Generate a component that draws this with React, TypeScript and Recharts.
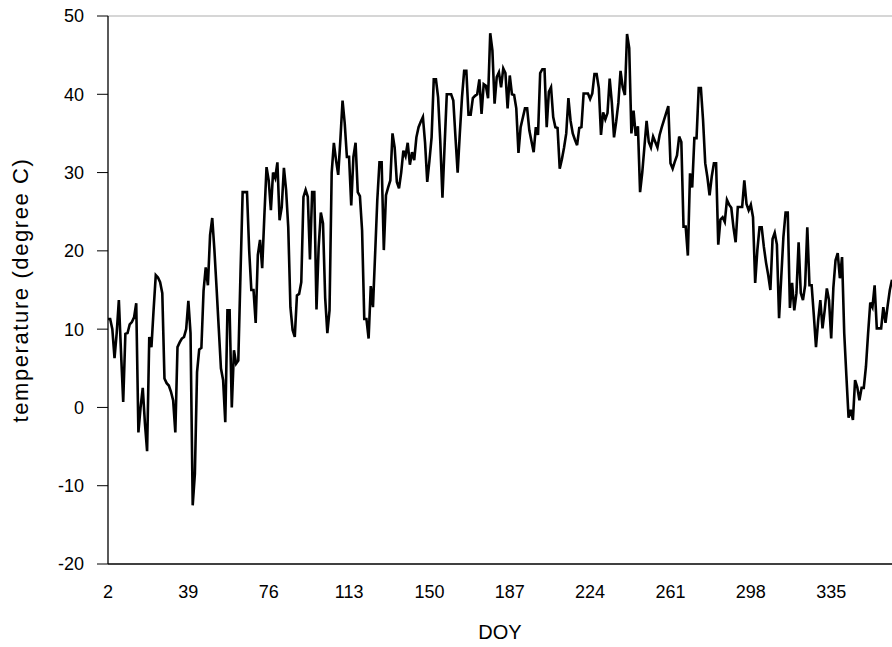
import { LineChart, Line, XAxis, YAxis, ReferenceLine } from "recharts"

// Daily air temperature, day of year 2..363, split by quarter
const FIRST_DOY = 2

const janToMar = [
  11.3, 11.3, 10, 6.3, 9.5, 13.7, 7, 0.7, 9.4, 9.5,
  10.6, 10.9, 11.5, 13.3, -3.2, 0, 2.5, -2, -5.6, 9.0,
  7.7, 12.5, 16.9, 16.6, 16, 14.6, 3.7, 3.1, 2.8, 2,
  0.9, -3.2, 7.7, 8.3, 8.8, 9.0, 10, 13.6, 9.5, -12.5,
  -8.5, 4.5, 7.4, 7.6, 14.9, 17.9, 15.6, 22, 24.2, 20.1,
  15.2, 10.1, 5.0, 3.5, -1.9, 12.4, 12.4, 0, 7.3, 5.6,
  6.0, 17, 27.5, 27.5, 27.5, 20.1, 15, 15, 10.8, 19.5,
  21.4, 17.8, 24.5, 30.7, 29, 25.2, 30, 29.3, 31.3, 23.9,
  25.6, 30.6, 27.8, 23, 12.8, 9.9, 9.0, 14.3, 14.5, 16,
]

const aprToJun = [
  26.9, 27.8, 26.9, 18.9, 27.5, 27.5, 12.5, 20.5, 24.9, 23.5,
  14, 9.5, 12.4, 30, 33.8, 31.6, 29.7, 34.2, 39.2, 36.3,
  32, 32, 25.8, 32, 33.8, 27.5, 27, 22.6, 11.3, 11.3,
  8.8, 15.5, 12.8, 19.6, 26.5, 31.3, 31.3, 20.1, 27.1, 28.1,
  29.0, 35, 33.2, 28.8, 28, 30, 32.8, 32.1, 33.8, 31,
  32.6, 31.6, 34.5, 35.8, 36.5, 37.1, 33.8, 28.8, 31.5, 34.5,
  41.9, 41.9, 39.6, 34, 26.8, 33.5, 40, 40, 40, 39.2,
  34.5, 30, 35, 39.6, 43, 43, 37.4, 37.4, 39.5, 39.8,
  40, 41.9, 37.5, 41.3, 41.1, 39.5, 47.8, 45.6, 38.8, 42.2,
  42.8,
]

const julToSep = [
  40.9, 43.3, 42.7, 38.2, 42.4, 40, 39.9, 38.2, 32.5, 35.8,
  37, 38.2, 38.2, 35.4, 34, 32.6, 35.8, 34.8, 42.7, 43.2,
  43.2, 35.8, 40.3, 40.9, 37.1, 35.8, 35.7, 30.5, 31.7, 33.2,
  35, 39.5, 36.6, 35, 34.2, 33.5, 35.7, 35.8, 40.1, 40.1,
  40.1, 39.4, 40.1, 42.6, 42.6, 40.8, 34.8, 37.7, 36.8, 37.6,
  42, 38.9, 34.5, 36.5, 38.9, 43, 40.9, 39.9, 47.7, 45.9,
  35, 37.9, 34.7, 35.9, 27.5, 30, 33.3, 36.6, 33.9, 33.2,
  34.6, 33.9, 33.2, 34.8, 35.8, 36.7, 37.6, 38.5, 31.2, 30.5,
  31.4, 32.2, 34.6, 33.9, 23.1, 23.1, 19.4, 29.9, 28.1, 34.4,
  34.4,
]

const octToDec = [
  40.8, 40.8, 36.7, 31.2, 29.4, 27.1, 29.5, 31.2, 31.2, 20.8,
  24, 24.3, 23.7, 26.5, 25.9, 25.5, 23, 21.1, 25.6, 25.6,
  25.6, 29, 26, 25.2, 25.9, 24.3, 15.9, 20.1, 23, 23,
  20.5, 18.5, 16.9, 15, 21.5, 22.3, 20.8, 11.4, 16.6, 21.8,
  24.9, 24.9, 12.7, 15.9, 12.4, 14.6, 21.1, 14.6, 13.7, 15.6,
  23, 15.6, 15.6, 11.8, 7.7, 11.1, 13.7, 10.1, 12.4, 15.2,
  13.7, 8.8, 15.3, 18.8, 19.7, 16.5, 19.2, 9.5, 4, -1.3,
  -0.3, -1.6, 3.5, 2.6, 0.9, 2.5, 2.5, 5.2, 9.5, 13.4,
  12.8, 15.6, 10.1, 10.1, 10.1, 12.8, 10.8, 13, 15, 16.3,
]

const doyTicks = [2, 39, 76, 113, 150, 187, 224, 261, 298, 335]
const tempTicks = [-20, -10, 0, 10, 20, 30, 40, 50]

const temps = [...janToMar, ...aprToJun, ...julToSep, ...octToDec]
const data = temps.map((temp, i) => ({ doy: FIRST_DOY + i, temp }))
const lastDoy = FIRST_DOY + temps.length - 1

const font = "'Liberation Sans', Arial, Helvetica, sans-serif"
const tickStyle = { fontSize: 18, fill: "#000", fontFamily: font }

export default function App() {
  // pinned to the page corner so the body margin doesn't push the chart around
  return (
    <div
      style={{
        position: "absolute",
        left: 0,
        top: 0,
        width: 892,
        height: 647,
        overflow: "hidden",
        background: "#fff",
      }}
    >
      <LineChart
        width={892}
        height={647}
        data={data}
        margin={{ top: 16, right: 0, bottom: 0, left: 0 }}
      >
        <XAxis
          type="number"
          dataKey="doy"
          domain={[FIRST_DOY, lastDoy]}
          ticks={doyTicks}
          interval={0}
          height={83}
          tickLine={false}
          tickSize={0}
          tickMargin={21}
          tick={tickStyle}
          axisLine={{ stroke: "#000", strokeWidth: 1.3 }}
          label={{
            value: "DOY",
            position: "insideBottom",
            offset: 8,
            style: { fontSize: 20, fill: "#000", fontFamily: font },
          }}
        />
        <YAxis
          type="number"
          domain={[-20, 50]}
          ticks={tempTicks}
          interval={0}
          width={108}
          tickSize={11}
          tickMargin={13}
          tick={tickStyle}
          tickLine={{ stroke: "#000" }}
          axisLine={{ stroke: "#000", strokeWidth: 1.3 }}
          label={{
            value: "temperature (degree C)",
            angle: -90,
            position: "insideLeft",
            offset: 20,
            style: {
              fontSize: 22,
              letterSpacing: 1.6,
              fill: "#000",
              fontFamily: font,
              textAnchor: "middle",
            },
          }}
        />
        <ReferenceLine y={50} stroke="#c8c8c8" strokeWidth={1.3} />
        <Line
          type="linear"
          dataKey="temp"
          stroke="#000"
          strokeWidth={2.6}
          dot={false}
          activeDot={false}
          isAnimationActive={false}
        />
      </LineChart>
    </div>
  )
}
